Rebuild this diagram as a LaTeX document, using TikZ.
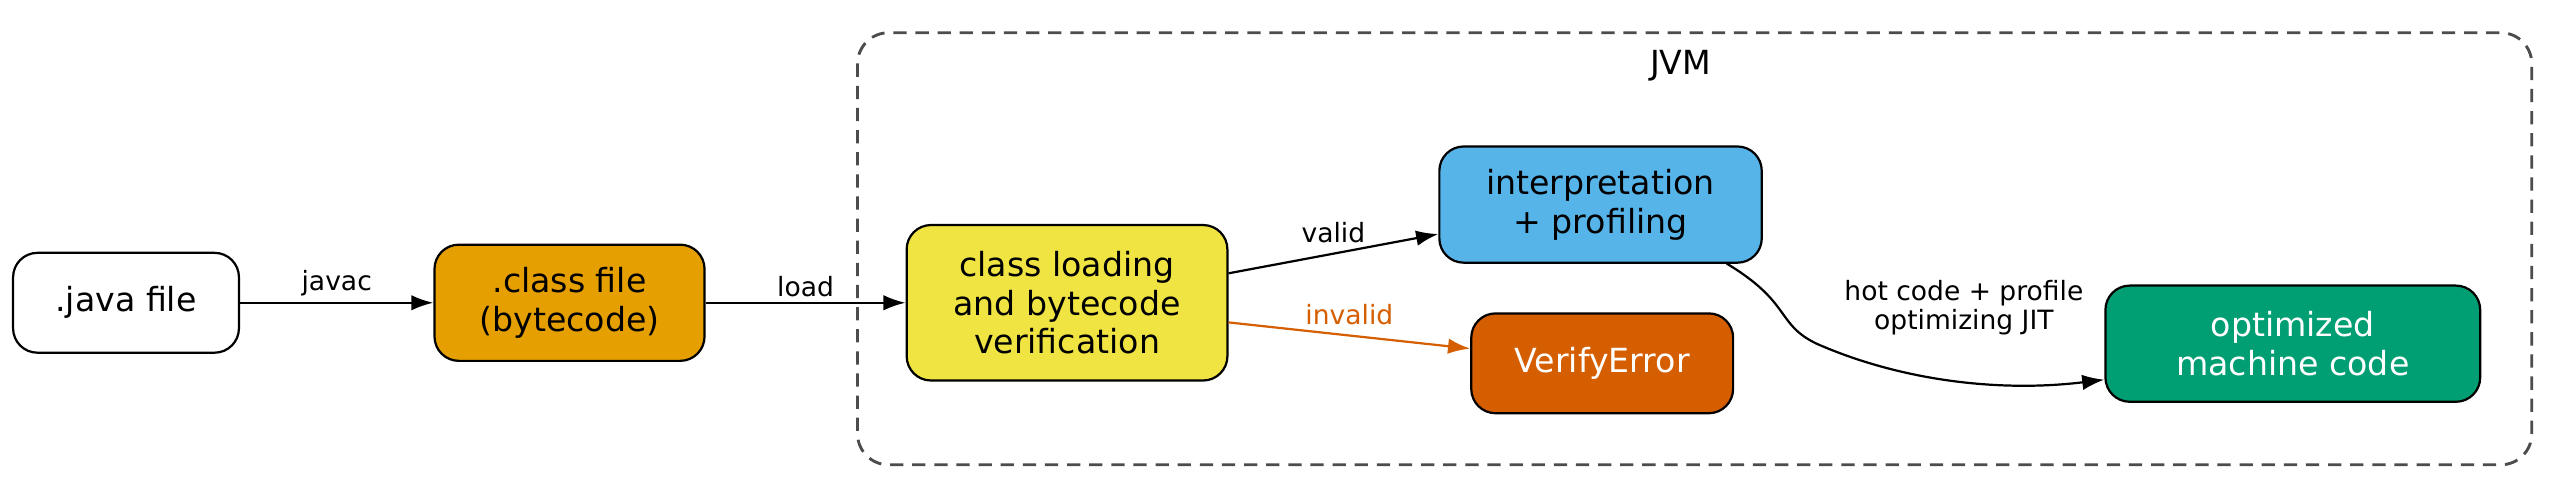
\documentclass[tikz,border=0pt]{standalone}
\usepackage{fontspec}
\setmainfont{DejaVu Sans}
\usetikzlibrary{positioning,arrows.meta}
\definecolor{cOrange}{HTML}{E69F00}
\definecolor{cYellow}{HTML}{F0E442}
\definecolor{cBlue}{HTML}{56B4E9}
\definecolor{cRed}{HTML}{D55E00}
\definecolor{cGreen}{HTML}{009E73}
\begin{document}
\begin{tikzpicture}[x=0.026cm, y=-0.026cm,
  box/.style={draw, line width=1pt, rounded corners=11pt, align=center, font=\fontsize{15}{17.5}\selectfont, inner sep=0pt},
  flow/.style={-{Latex[length=10pt,width=7pt]}, line width=1pt},
  elabel/.style={font=\fontsize{12}{13.5}\selectfont, align=center}]

 \useasboundingbox (0,0) rectangle (1560,304);

   %cluster
    \draw[line width=1.3pt, draw=black!70, rounded corners=14pt, dash pattern=on 6pt off 4pt] (524,20) rectangle (1547,284);
    \node (jvm) at (1027,40) {\fontsize{15}{17}\selectfont JVM};

   %nodes
    \node (java) [box, minimum width=138*0.026cm, minimum height=61*0.026cm] at (77,185) {.java file};
    \node (cls) [box, fill=cOrange, minimum width=165*0.026cm, minimum height=71*0.026cm] at (348,185) {.class file\\(bytecode)};
    \node (load) [box, fill=cYellow, minimum width=196*0.026cm, minimum height=95*0.026cm] at (652,185) {class loading\\and bytecode\\verification};
    \node (interp) [box, fill=cBlue, minimum width=197*0.026cm, minimum height=71*0.026cm] at (978,125) {interpretation\\+ profiling};
    \node (verr) [box, fill=cRed, text=white, minimum width=160*0.026cm, minimum height=61*0.026cm] at (979,222) {VerifyError};
    \node (opt) [box, fill=cGreen, text=white, minimum width=229*0.026cm, minimum height=71*0.026cm] at (1401,210) {optimized\\machine code};

   %edges
    \draw [flow] (java) -- (cls) node[elabel, midway, above=-1pt] {javac};
    \draw [flow] (cls) -- (load) node[elabel, midway, above=-1pt] {load};
    \draw [flow] (load.east |- 0,167) -- (interp.west |- 0,143) node[elabel, midway, above=1pt] {valid};
    \draw [flow, draw=cRed] (load.east |- 0,197) -- (verr.west |- 0,213) node[elabel, text=cRed, midway, above=1pt] {invalid};
    \coordinate (hot) at (1055,161);
    \draw [flow] (hot) .. controls (1095,185) and (1085,198) .. (1110,210) .. controls (1160,232) and (1220,240) .. (opt.west |- 0,232);
    \node (hotlbl) [elabel] at (1200,188) {hot code + profile\\optimizing JIT};

\end{tikzpicture}
\end{document}
